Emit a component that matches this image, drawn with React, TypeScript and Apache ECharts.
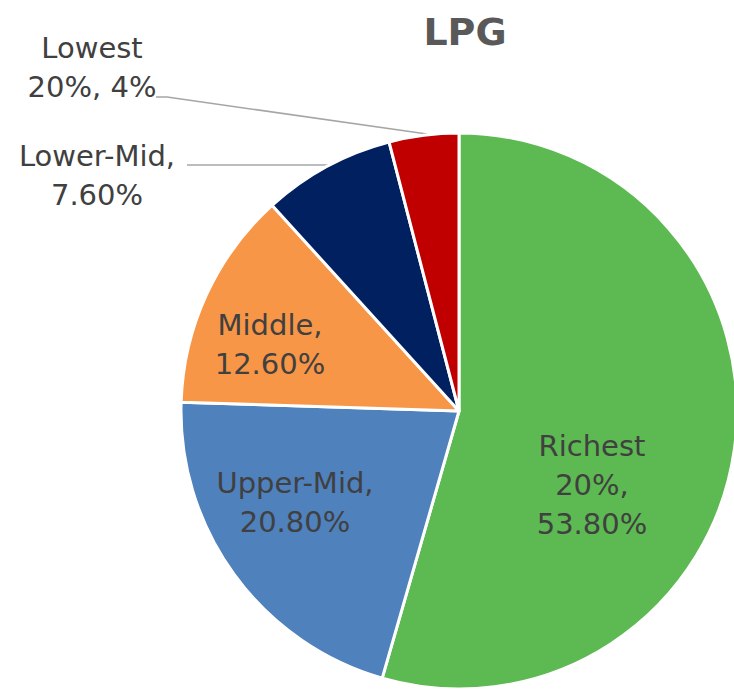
import React, { useEffect, useRef } from "react";
import * as echarts from "echarts";

const categories = ["Richest 20%", "Upper-Mid", "Middle", "Lower-Mid", "Lowest 20%"];
const values = [53.8, 20.8, 12.6, 7.6, 4.0];
const labelTexts = ["Richest\n20%,\n53.80%", "Upper-Mid,\n20.80%", "Middle,\n12.60%", "Lower-Mid,\n7.60%", "Lowest\n20%, 4%"];
const colors = ["#5DB951", "#4F81BD", "#F79646", "#002060", "#C00000"];

// label placement (x, y centre of text block) and leader lines
const labelPos: [number, number][] = [
  [592, 485],
  [295, 502],
  [270, 344],
  [97, 175],
  [92, 67],
];
const insideLabel = [true, true, true, false, false];
const leaderLines: Record<number, [number, number][]> = {
  3: [[187, 165], [330, 165]],
  4: [[156, 97], [167, 97], [427, 134]],
};

export default function App() {
  const ref = useRef<HTMLDivElement>(null);
  useEffect(() => {
    if (!ref.current) return;
    const chart = echarts.init(ref.current, null, { renderer: "svg" });
    chart.setOption({
      animation: false,
      title: {
        text: "LPG",
        left: 460,
        top: 8,
        textAlign: "center",
        textStyle: { fontFamily: "DejaVu Sans", fontSize: 38, fontWeight: "bold", color: "#595959" },
      },
      series: [
        {
          type: "pie",
          center: [459, 411],
          radius: [0, 278],
          startAngle: 90,
          clockwise: true,
          itemStyle: { borderColor: "#ffffff", borderWidth: 3 },
          label: {
            show: true,
            position: "outside",
            fontFamily: "DejaVu Sans",
            fontSize: 29,
            lineHeight: 39,
            color: "#404040",
            align: "center",
            formatter: (p: any) => labelTexts[p.dataIndex],
          },
          labelLine: { show: false, lineStyle: { color: "#A6A6A6", width: 1.5 } },
          labelLayout: (p: any) => {
            const [x, y] = labelPos[p.dataIndex];
            const res: any = { x, y, align: "center", verticalAlign: "middle" };
            if (leaderLines[p.dataIndex]) res.labelLinePoints = leaderLines[p.dataIndex];
            return res;
          },
          data: categories.map((name, i) => ({
            name,
            value: values[i],
            itemStyle: { color: colors[i] },
            label: { position: insideLabel[i] ? "inside" : "outside" },
            labelLine: { show: !!leaderLines[i] },
          })),
        },
      ],
    });
    return () => chart.dispose();
  }, []);
  return (
    <div
      ref={ref}
      style={{ position: "fixed", left: 0, top: 0, width: 734, height: 690, background: "#ffffff" }}
    />
  );
}
